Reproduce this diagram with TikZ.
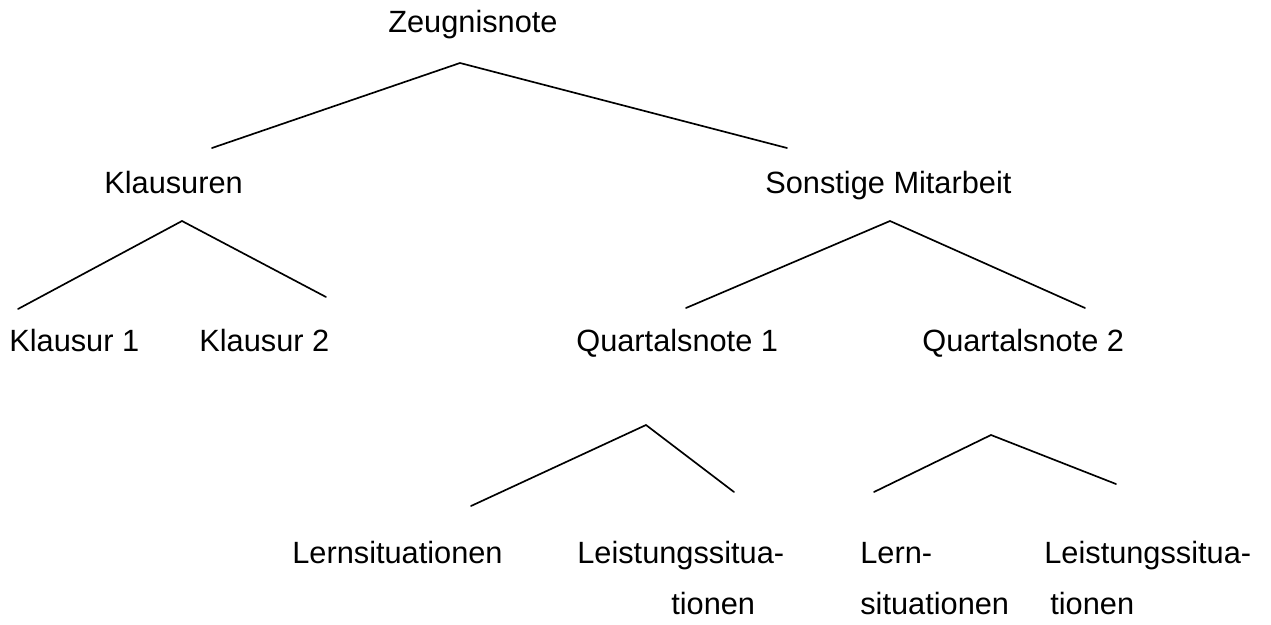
\documentclass[tikz,border=0pt]{standalone}
\usepackage{fontspec}
\setmainfont{Liberation Sans}

\begin{document}
\begin{tikzpicture}[
    x=0.02cm, y=-0.02cm,
    % Stil fuer Beschriftungen
    notenlabel/.style={
            inner sep=0pt,
            anchor=base west,
            align=left,
            font=\fontsize{17.5}{29}\selectfont
        },
    % Stil fuer Aeste
    ast/.style={
            line width=0.95pt,
            color=black,
            line cap=round
        }
    ]
    \useasboundingbox (0,0) rectangle (1271,625);

    % ========== EBENE 1 ==========
    \node[notenlabel] (zeugnis) at (388,33) {Zeugnisnote};

    % ========== EBENE 2 ==========
    \node[notenlabel] (klausuren) at (104,194) {Klausuren};
    \node[notenlabel] (sonstige) at (765,194) {Sonstige Mitarbeit};

    % ========== EBENE 3 ==========
    \node[notenlabel] (klausur1) at (9,351) {Klausur 1};
    \node[notenlabel] (klausur2) at (199,351) {Klausur 2};
    \node[notenlabel] (quartal1) at (576,351) {Quartalsnote 1};
    \node[notenlabel] (quartal2) at (922,351) {Quartalsnote 2};

    % ========== EBENE 4 ==========
    \node[notenlabel] (lern1) at (292,563) {Lernsituationen};
    \node[notenlabel] (leist1) at (577,614) {Leistungssitua-\\\hspace*{1.88cm}tionen};
    \node[notenlabel] (lern2) at (860,614) {Lern-\\situationen};
    \node[notenlabel] (leist2) at (1044,614) {Leistungssitua-\\\hspace*{0.12cm}tionen};

    % ========== ASTPUNKTE ==========
    \coordinate (zeugnisspitze) at (460,63);
    \coordinate (klausurenende) at (212,148);
    \coordinate (sonstigeende) at (787,148);

    \coordinate (klausurenspitze) at (182,221);
    \coordinate (klausur1ende) at (18,309);
    \coordinate (klausur2ende) at (326,297);

    \coordinate (sonstigespitze) at (890,221);
    \coordinate (quartal1ende) at (686,308);
    \coordinate (quartal2ende) at (1085,308);

    \coordinate (quartal1spitze) at (646,425);
    \coordinate (lern1ende) at (471,506);
    \coordinate (leist1ende) at (734,492);

    \coordinate (quartal2spitze) at (991,435);
    \coordinate (lern2ende) at (874,492);
    \coordinate (leist2ende) at (1116,484);

    % ========== ASTE ==========
    \draw[ast] (klausurenende) -- (zeugnisspitze) -- (sonstigeende);
    \draw[ast] (klausur1ende) -- (klausurenspitze) -- (klausur2ende);
    \draw[ast] (quartal1ende) -- (sonstigespitze) -- (quartal2ende);
    \draw[ast] (lern1ende) -- (quartal1spitze) -- (leist1ende);
    \draw[ast] (lern2ende) -- (quartal2spitze) -- (leist2ende);

\end{tikzpicture}
\end{document}
